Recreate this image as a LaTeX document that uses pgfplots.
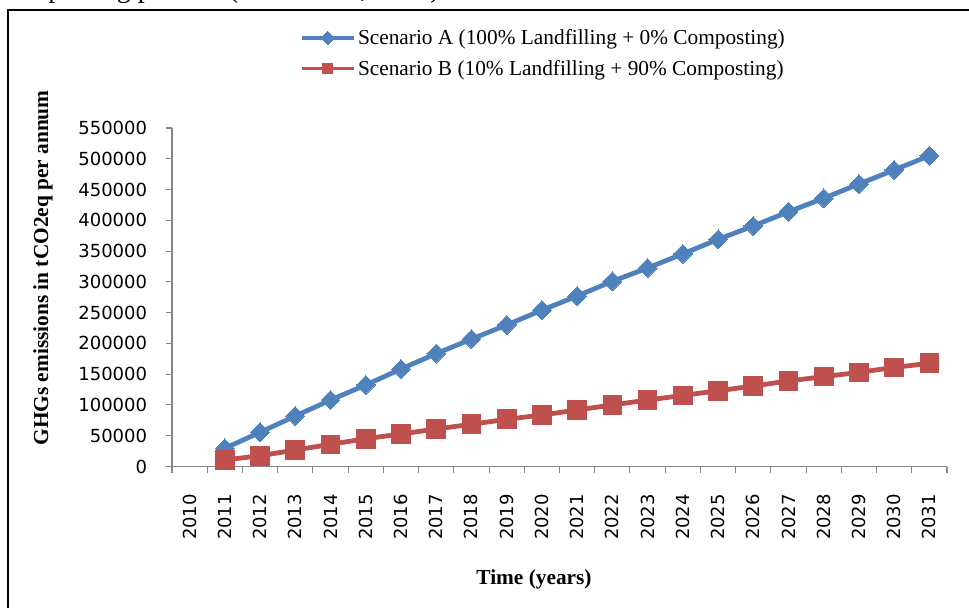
\documentclass[border=0pt]{standalone}
\usepackage{fontspec}
\setmainfont{Liberation Serif}
\newfontfamily\tickfont{DejaVu Sans}
\usepackage{pgfplots}
\usepackage{pgfplotstable}
\pgfplotsset{compat=1.18}

\definecolor{serA}{HTML}{4F81BD}
\definecolor{serB}{HTML}{C0504D}
\definecolor{axgray}{HTML}{868686}

% year index (2010 = 0), scenario A, scenario B  (tCO2eq per annum)
\pgfplotstableread{
x  A       B
1  29600   10600
2  55600   17500
3  82000   26800
4  108000  36000
5  132500  45200
6  158400  52800
7  183500  61000
8  207000  68600
9  230000  76700
10 254000  83700
11 277000  91800
12 301000  100000
13 322500  108000
14 345500  115500
15 369000  123000
16 390800  130800
17 414000  139000
18 435800  146000
19 459000  153000
20 481800  161000
21 505000  167700
}\emissions

\begin{document}
\begin{tikzpicture}
% picture is 969 x 607 px, 1 px = 0.75pt, origin at the top left corner
\useasboundingbox (0,0) rectangle (726.75pt,-455.25pt);
\begin{scope}
  \clip (0,0) rectangle (726.75pt,-455.25pt);
  % caption line of the page above the figure, cut off at the top
  \node[anchor=base west, inner sep=0pt, font=\fontsize{21pt}{25pt}\selectfont]
    at (0pt,1.8pt) {composting process (Hoda et al., 1989).};
  \draw[line width=2.2pt, line join=miter] (6pt,-470pt) -- (6pt,-7.5pt) -- (740pt,-7.5pt);
\end{scope}

\begin{axis}[
    at={(129pt,-349.875pt)}, anchor=south west,
    scale only axis,
    width=581.25pt, height=253.875pt,
    xmin=-0.5, xmax=21.5,
    ymin=0, ymax=550000,
    axis x line*=bottom, axis y line*=left,
    axis line style={draw=axgray, line width=0.8pt, -},
    tick align=outside,
    tick style={axgray, line width=0.8pt},
    major tick length=4.5pt, minor tick length=4.5pt,
    xtick={0,...,21},
    xticklabels={2010,2011,2012,2013,2014,2015,2016,2017,2018,2019,2020,
                 2021,2022,2023,2024,2025,2026,2027,2028,2029,2030,2031},
    minor xtick={-0.5,0.5,...,21.5},
    major x tick style={draw=none},
    xticklabel style={rotate=90, anchor=east, inner sep=0pt,
                      font=\tickfont\fontsize{13.5pt}{16pt}\selectfont},
    xticklabel shift=16pt,
    ytick={0,50000,...,550000},
    scaled y ticks=false,
    yticklabel style={/pgf/number format/fixed, /pgf/number format/1000 sep={},
                      /pgf/number format/assume math mode=true,
                      inner sep=0pt, font=\tickfont\fontsize{13.5pt}{16pt}\selectfont},
    yticklabel shift=14pt,
    clip=false,
    legend style={at={(0.165,1.300)}, anchor=north west, draw=none, fill=none,
                  font=\fontsize{16pt}{19pt}\selectfont, row sep=6.4pt,
                  cells={anchor=west}, inner sep=0pt},
    legend image code/.code={
        \draw[line width=2.4pt] (0pt,0pt) -- (39pt,0pt);
        \draw[line width=0pt] plot[mark size=3.6pt] coordinates {(19.5pt,0pt)};
    },
]
\addplot[serA, line width=3.6pt, mark=square*, mark size=5pt,
         mark options={rotate=45, line width=0pt}] table[x=x, y=A] {\emissions};
\addlegendentry{Scenario A (100\% Landfilling + 0\% Composting)}
\addplot[serB, line width=3.6pt, mark=square*, mark size=7pt,
         mark options={line width=0pt}] table[x=x, y=B] {\emissions};
\addlegendentry{Scenario B (10\% Landfilling + 90\% Composting)}
\end{axis}

\node[rotate=90, font=\bfseries\fontsize{16pt}{19pt}\selectfont]
  at (32.25pt,-201pt) {GHGs emissions in tCO2eq per annum};
\node[font=\bfseries\fontsize{16pt}{19pt}\selectfont]
  at (400.5pt,-434.25pt) {Time (years)};
\end{tikzpicture}
\end{document}
